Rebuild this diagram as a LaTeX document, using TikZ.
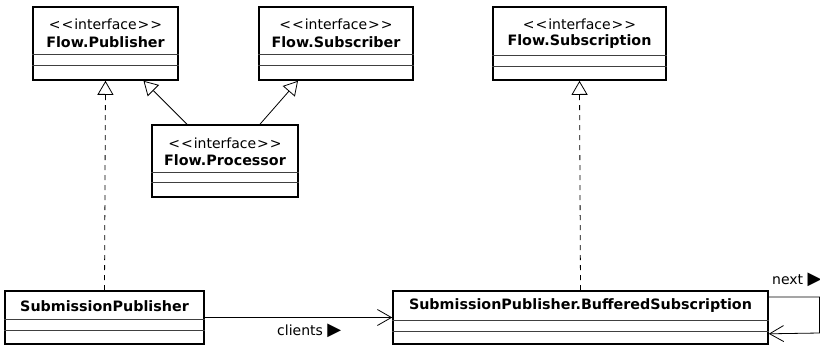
\documentclass[tikz,border=0pt]{standalone}
\usepackage{fontspec}
\setmainfont{DejaVu Sans}
\usetikzlibrary{arrows.meta,calc}
\newcommand{\stereotxt}{<\kern1pt<\kern1pt interface\kern1pt>\kern1pt>}
\begin{document}
\begin{tikzpicture}[x=1pt,y=-1pt,
  cls/.style={draw, line width=1.6pt, rectangle, inner sep=0pt},
  div/.style={line width=0.7pt, draw=black!75},
  stereo/.style={font=\fontsize{14}{16}\selectfont, inner sep=0pt},
  cname/.style={font=\fontsize{14.3}{16}\selectfont\bfseries, inner sep=0pt},
  lbl/.style={font=\fontsize{14}{16}\selectfont, inner sep=0pt},
  real/.style={line width=0.8pt, dash pattern=on 5pt off 5pt, -{Triangle[open, length=14pt, width=16pt, fill=white]}},
  gen/.style={line width=0.8pt, -{Triangle[open, length=14pt, width=16pt, fill=white]}},
  assoc/.style={line width=0.8pt, -{Straight Barb[length=14pt, width=16pt]}}
]
\useasboundingbox (0,0) rectangle (820,346);
% Flow.Publisher
\node[cls, minimum width=145, minimum height=73] (pub) at (105.5,43.5) {};
\node[stereo] (pubs) at (105.5,24) {\stereotxt};
\node[cname] (pubn) at (105.5,42) {Flow.Publisher};
\draw[div] ([yshift=-48]pub.north west) -- ([yshift=-48]pub.north east);
\draw[div] ([yshift=-59]pub.north west) -- ([yshift=-59]pub.north east);
% Flow.Subscriber
\node[cls, minimum width=154, minimum height=73] (sub) at (336,43.5) {};
\node[stereo] (subs) at (336,24) {\stereotxt};
\node[cname] (subn) at (336,42) {Flow.Subscriber};
\draw[div] ([yshift=-48]sub.north west) -- ([yshift=-48]sub.north east);
\draw[div] ([yshift=-59]sub.north west) -- ([yshift=-59]sub.north east);
% Flow.Subscription
\node[cls, minimum width=173, minimum height=73] (sn) at (579.5,43.5) {};
\node[stereo] (sns) at (579.5,24) {\stereotxt};
\node[cname] (snn) at (579.5,42) {Flow.Subscription};
\draw[div] ([yshift=-49]sn.north west) -- ([yshift=-49]sn.north east);
\draw[div] ([yshift=-60]sn.north west) -- ([yshift=-60]sn.north east);
% Flow.Processor
\node[cls, minimum width=146, minimum height=72] (proc) at (225,161) {};
\node[stereo] (procs) at (225,143) {\stereotxt};
\node[cname] (procn) at (225,160) {Flow.Processor};
\draw[div] ([yshift=-48]proc.north west) -- ([yshift=-48]proc.north east);
\draw[div] ([yshift=-58]proc.north west) -- ([yshift=-58]proc.north east);
% SubmissionPublisher
\node[cls, minimum width=199, minimum height=53] (sp) at (104.5,317.5) {};
\node[cname] (spn) at (104.5,306) {SubmissionPublisher};
\draw[div] ([yshift=-29]sp.north west) -- ([yshift=-29]sp.north east);
\draw[div] ([yshift=-40]sp.north west) -- ([yshift=-40]sp.north east);
% BufferedSubscription
\node[cls, minimum width=375, minimum height=53] (bs) at (580.5,317.5) {};
\node[cname] (bsn) at (580.5,306) {SubmissionPublisher.BufferedSubscription};
\draw[div] ([yshift=-30]bs.north west) -- ([yshift=-30]bs.north east);
\draw[div] ([yshift=-41]bs.north west) -- ([yshift=-41]bs.north east);
% realizations
\draw[real] (sp.north) -- (pub.south);
\draw[real] (bs.north) -- (sn.south);
% generalizations
\draw[gen] ([xshift=-38]proc.north) -- ([xshift=38]pub.south);
\draw[gen] ([xshift=35]proc.north) -- ([xshift=-38]sub.south);
% association clients
\draw[assoc] (sp.east) -- (bs.west);
\node[lbl, anchor=west] (cl) at (277,331) {clients {\fontsize{18}{18}\selectfont ▶}};
% self association next
\coordinate (c1) at (819.5,297);
\coordinate (c2) at (819.5,333);
\draw[assoc] ([yshift=20.5]bs.east) -- (c1) -- (c2) -- ([yshift=11]bs.south east);
\node[lbl, anchor=west] (nx) at (772,280) {next {\fontsize{18}{18}\selectfont ▶}};
\end{tikzpicture}
\end{document}
